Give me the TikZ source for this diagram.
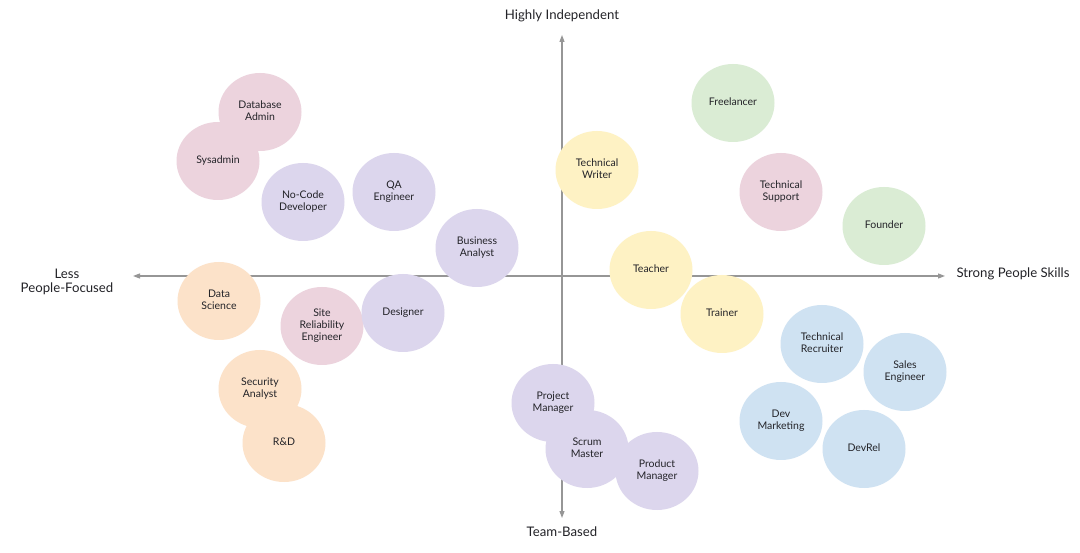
\documentclass[tikz,border=0pt]{standalone}
\usepackage{fontspec}
\setmainfont{Lato}
\usetikzlibrary{shapes.geometric,arrows.meta}
\definecolor{cpink}{RGB}{236,211,221}
\definecolor{cpurple}{RGB}{220,214,237}
\definecolor{cpeach}{RGB}{252,226,201}
\definecolor{cyellow}{RGB}{254,242,196}
\definecolor{cgreen}{RGB}{218,236,212}
\definecolor{cblue}{RGB}{207,226,242}
\definecolor{ctext}{RGB}{35,35,40}
\definecolor{caxis}{RGB}{150,150,150}
\tikzset{
  role/.style={ellipse, minimum width=83pt, minimum height=78pt, inner sep=0pt,
    font=\fontsize{10.5}{12}\selectfont, text=ctext, align=center, draw=none,
    execute at begin node=\vphantom{Ag}},
  axislabel/.style={font=\fontsize{13.2}{14.5}\selectfont, text=ctext, align=center},
  axisline/.style={draw=caxis, line width=1.1pt, {Triangle[length=7pt,width=5pt]}-{Triangle[length=7pt,width=5pt]}}
}
\begin{document}
\begin{tikzpicture}[x=1pt,y=-1pt]
\useasboundingbox[fill=white] (0,0) rectangle (1080,553);
% axes
\coordinate (top) at (562,35);
\coordinate (bot) at (562,518);
\coordinate (lft) at (133,276);
\coordinate (rgt) at (945,276);
\draw[axisline] (bot) -- (top);
\draw[axisline] (lft) -- (rgt);
\node[axislabel] (lblTop) at (562,16) {Highly Independent};
\node[axislabel] (lblBot) at (562,532) {Team-Based};
\node[axislabel] (lblLeft) at (67,282) {Less\\People-Focused};
\node[axislabel] (lblRight) at (1013,274) {Strong People Skills};
% roles
\node[role, fill=cpink] (dba) at (260,112) {Database\\Admin};
\node[role, fill=cpink] (sys) at (218,161) {Sysadmin};
\node[role, fill=cpurple] (nocode) at (303,202) {No-Code\\Developer};
\node[role, fill=cpurple] (qa) at (394,192) {QA\\Engineer};
\node[role, fill=cpurple] (ba) at (477,248) {Business\\Analyst};
\node[role, fill=cyellow] (tw) at (597,170) {Technical\\Writer};
\node[role, fill=cgreen] (free) at (733,103) {Freelancer};
\node[role, fill=cpink] (ts) at (781,192) {Technical\\Support};
\node[role, fill=cgreen] (founder) at (884,226) {Founder};
\node[role, fill=cyellow] (teacher) at (651,270) {Teacher};
\node[role, fill=cyellow] (trainer) at (722,314) {Trainer};
\node[role, fill=cpeach] (ds) at (219,301) {Data\\Science};
\node[role, fill=cpink] (sre) at (322,326) {Site\\Reliability\\Engineer};
\node[role, fill=cpurple] (designer) at (403,313) {Designer};
\node[role, fill=cpeach] (sec) at (260,389) {Security\\Analyst};
\node[role, fill=cpeach] (rd) at (284,443) {R\&D};
\node[role, fill=cpurple] (pm) at (553,403) {Project\\Manager};
\node[role, fill=cpurple] (sm) at (587,449) {Scrum\\Master};
\node[role, fill=cpurple] (prod) at (657,471) {Product\\Manager};
\node[role, fill=cblue] (rec) at (822,344) {Technical\\Recruiter};
\node[role, fill=cblue] (sales) at (905,372) {Sales\\Engineer};
\node[role, fill=cblue] (devm) at (781,421) {Dev\\Marketing};
\node[role, fill=cblue] (devrel) at (864,449) {DevRel};
\end{tikzpicture}
\end{document}
